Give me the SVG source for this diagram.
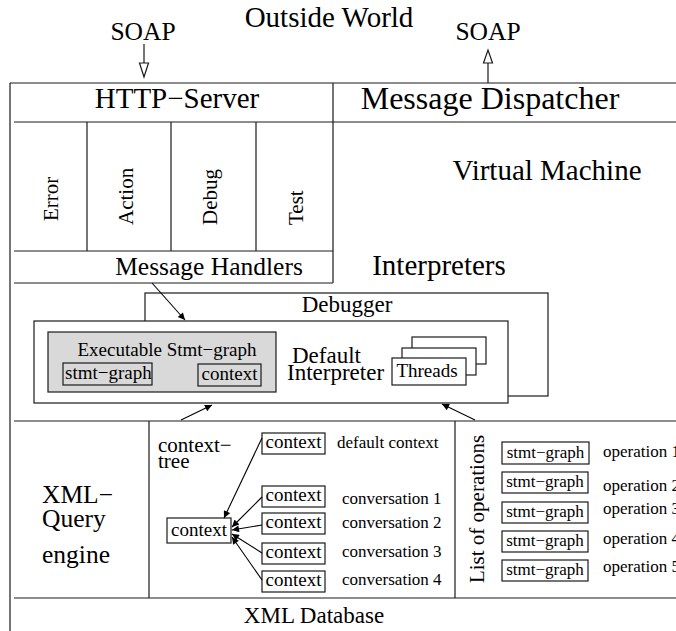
<svg xmlns="http://www.w3.org/2000/svg" width="676" height="631" viewBox="0 0 676 631" font-family="'Liberation Serif', serif">
  <defs>
    <marker id="head" viewBox="0 0 10 10" refX="10" refY="5" markerWidth="10" markerHeight="7" markerUnits="userSpaceOnUse" orient="auto">
      <path d="M0,0 L10,5 L0,10 z" fill="#000"/>
    </marker>
    <style>
      text { font-family: 'Liberation Serif', serif; fill: #000; }
      .ln { stroke: #1a1a1a; stroke-width: 1.2; fill: none; }
      .box { stroke: #1a1a1a; stroke-width: 1.2; fill: #fff; }
      .open { stroke: #1a1a1a; stroke-width: 1.2; fill: none; }
      .gray { stroke: #1a1a1a; stroke-width: 1.2; fill: #d9d9d9; }
      .big { font-size: 29px; }
      .mid { font-size: 25.5px; }
      .t23 { font-size: 23px; }
      .t21 { font-size: 21px; }
      .t19 { font-size: 19px; }
      .t17 { font-size: 17px; }
      .arr { stroke: #000; stroke-width: 1.1; fill: none; marker-end: url(#head); }
      .c { text-anchor: middle; }
    </style>
  </defs>

  <!-- outside world -->
  <g id="outside">
    <text class="big c" x="329" y="27">Outside World</text>
    <text class="mid c" x="143" y="40">SOAP</text>
    <text class="mid c" x="488" y="40">SOAP</text>
  </g>

  <!-- virtual machine frame -->
  <g id="frame">
    <line class="ln" x1="10" y1="83" x2="676" y2="83"/>
    <line class="ln" x1="10" y1="83" x2="10" y2="631"/>
    <line class="ln" x1="14" y1="122" x2="676" y2="122"/>
    <line class="ln" x1="333" y1="83" x2="333" y2="283"/>
    <text class="big c" x="177" y="108">HTTP−Server</text>
    <text class="c" x="490" y="109" font-size="32">Message Dispatcher</text>
    <text class="big c" x="547" y="180">Virtual Machine</text>
    <text class="big c" x="439" y="275">Interpreters</text>
  </g>

  <!-- message handlers -->
  <g id="handlers">
    <line class="ln" x1="87" y1="122" x2="87" y2="251"/>
    <line class="ln" x1="171" y1="122" x2="171" y2="251"/>
    <line class="ln" x1="256" y1="122" x2="256" y2="251"/>
    <line class="ln" x1="14" y1="251" x2="333" y2="251"/>
    <line class="ln" x1="14" y1="283" x2="333" y2="283"/>
    <text class="t21" transform="translate(58,221) rotate(-90)">Error</text>
    <text class="t21" transform="translate(133,225) rotate(-90)">Action</text>
    <text class="t21" transform="translate(217,225) rotate(-90)">Debug</text>
    <text class="t21" transform="translate(303,225) rotate(-90)">Test</text>
    <text class="mid c" x="209" y="275">Message Handlers</text>
  </g>

  <!-- debugger -->
  <g id="debugger">
    <rect class="box" x="145" y="293" width="403" height="103"/>
    <text class="t23 c" x="347" y="312">Debugger</text>
  </g>

  <!-- default interpreter -->
  <g id="interpreter">
    <rect class="box" x="34" y="321" width="474" height="82"/>
    <rect class="gray" x="48" y="332" width="228" height="60"/>
    <text class="t19 c" x="167" y="356">Executable Stmt−graph</text>
    <rect class="open" x="63" y="363" width="89" height="22"/>
    <text class="t19" x="65" y="379">stmt−graph</text>
    <rect class="open" x="198" y="364" width="63" height="22"/>
    <text class="t19 c" x="229.5" y="380">context</text>
    <text class="t23" x="292" y="363">Default</text>
    <text class="t23" x="287" y="380">Interpreter</text>
  </g>

  <!-- threads -->
  <g id="threads">
    <rect class="box" x="412" y="337" width="74" height="27"/>
    <rect class="box" x="402" y="348" width="74" height="27"/>
    <rect class="box" x="392" y="358" width="74" height="27"/>
    <text class="t19 c" x="427" y="377">Threads</text>
  </g>

  <!-- XML query engine section -->
  <g id="query-engine">
    <line class="ln" x1="14" y1="421" x2="676" y2="421"/>
    <line class="ln" x1="149" y1="421" x2="149" y2="598"/>
    <line class="ln" x1="455" y1="421" x2="455" y2="598"/>
    <line class="ln" x1="14" y1="598" x2="676" y2="598"/>
    <text class="mid" x="42" y="503">XML−</text>
    <text class="mid" x="42" y="527">Query</text>
    <text class="mid" x="42" y="563">engine</text>
  </g>

  <!-- context tree -->
  <g id="context-tree">
    <text class="t21" x="158" y="452">context−</text>
    <text class="t21" x="158" y="468">tree</text>
    <rect class="box" x="167" y="518" width="64" height="25"/>
    <text class="t19 c" x="199" y="536">context</text>
    <rect class="box" x="262" y="433" width="63" height="21"/>
    <text class="t19 c" x="293.5" y="448">context</text>
    <rect class="box" x="262" y="486" width="63" height="21"/>
    <text class="t19 c" x="293.5" y="501">context</text>
    <rect class="box" x="262" y="513" width="63" height="21"/>
    <text class="t19 c" x="293.5" y="528">context</text>
    <rect class="box" x="262" y="543" width="63" height="21"/>
    <text class="t19 c" x="293.5" y="558">context</text>
    <rect class="box" x="262" y="571" width="63" height="21"/>
    <text class="t19 c" x="293.5" y="586">context</text>
    <text class="t17" x="337" y="448">default context</text>
    <text class="t17" x="342" y="504">conversation 1</text>
    <text class="t17" x="342" y="528">conversation 2</text>
    <text class="t17" x="342" y="557">conversation 3</text>
    <text class="t17" x="342" y="585">conversation 4</text>
  </g>

  <!-- list of operations -->
  <g id="operations">
    <text class="t21 c" transform="translate(484,509) rotate(-90)">List of operations</text>
    <rect class="box" x="502" y="442" width="87" height="22"/>
    <text class="t17 c" x="545.5" y="458">stmt−graph</text>
    <rect class="box" x="502" y="472" width="86" height="21"/>
    <text class="t17 c" x="545" y="487">stmt−graph</text>
    <rect class="box" x="502" y="502" width="86" height="21"/>
    <text class="t17 c" x="545" y="517">stmt−graph</text>
    <rect class="box" x="502" y="531" width="86" height="21"/>
    <text class="t17 c" x="545" y="546">stmt−graph</text>
    <rect class="box" x="502" y="560" width="86" height="21"/>
    <text class="t17 c" x="545" y="575">stmt−graph</text>
    <text class="t17" x="603" y="457">operation 1</text>
    <text class="t17" x="603" y="491">operation 2</text>
    <text class="t17" x="603" y="514">operation 3</text>
    <text class="t17" x="603" y="544">operation 4</text>
    <text class="t17" x="603" y="572">operation 5</text>
  </g>

  <!-- database -->
  <g id="database">
    <text class="t23 c" x="314" y="623">XML Database</text>
  </g>

  <!-- connectors -->
  <g id="connectors">
    <line class="ln" x1="144" y1="44" x2="144" y2="63"/>
    <polygon class="box" points="139.5,63 148.5,63 144,77"/>
    <line class="ln" x1="488" y1="83" x2="488" y2="63"/>
    <polygon class="box" points="483.5,63 492.5,63 488,50"/>
    <line class="arr" x1="152" y1="283" x2="185" y2="320"/>
    <line class="arr" x1="181" y1="420" x2="212" y2="405"/>
    <line class="arr" x1="475" y1="420" x2="442" y2="404"/>
    <line class="arr" x1="262" y1="438" x2="224" y2="518"/>
    <line class="arr" x1="262" y1="497" x2="232" y2="527"/>
    <line class="arr" x1="262" y1="525" x2="232" y2="530"/>
    <line class="arr" x1="262" y1="553" x2="232" y2="534"/>
    <line class="arr" x1="262" y1="580" x2="232" y2="537"/>
  </g>
</svg>
